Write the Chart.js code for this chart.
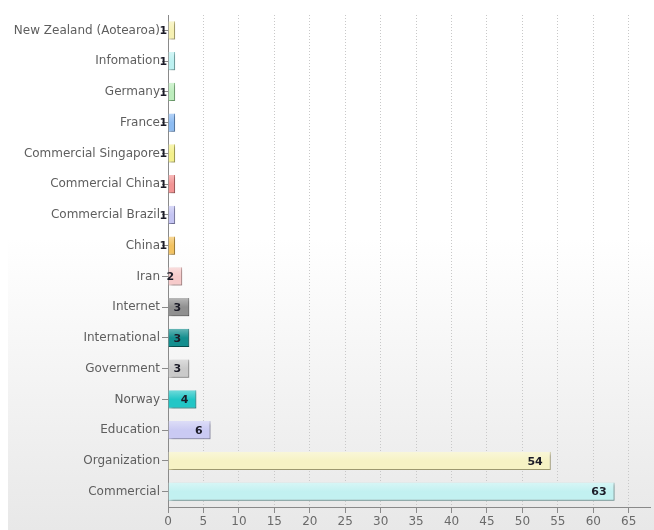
<!DOCTYPE html>
<html>
<head>
<meta charset="utf-8">
<script src="https://cdn.jsdelivr.net/npm/chart.js@4.4.1/dist/chart.umd.min.js"></script>
<style>
  html, body { margin: 0; padding: 0; background: #fff; }
  #wrap { width: 654px; height: 530px; position: relative; }
</style>
</head>
<body>
<div id="wrap"><canvas id="domainChart"></canvas></div>
<script>
// DATA
const categories = [
  "New Zealand (Aotearoa)", "Infomation", "Germany", "France",
  "Commercial Singapore", "Commercial China", "Commercial Brazil", "China",
  "Iran", "Internet", "International", "Government", "Norway",
  "Education", "Organization", "Commercial"
];
const counts = [1, 1, 1, 1, 1, 1, 1, 1, 2, 3, 3, 3, 4, 6, 54, 63];
const xTickValues = [0, 5, 10, 15, 20, 25, 30, 35, 40, 45, 50, 55, 60, 65];

const barColors = [
  "#f6f1b4", "#bdf1f1", "#bdedbd", "#8dbcf2",
  "#f3f08c", "#f29494", "#c4c4f2", "#f2c261",
  "#f6caca", "#909090", "#138e8e", "#cacaca", "#22c6c6",
  "#cacaf3", "#f6f2c4", "#c2f1f1"
];
const barBorders = [
  "#c9c07a", "#86c4c4", "#89c489", "#5f8fc8",
  "#c4c05a", "#c46666", "#9494c6", "#c49536",
  "#c99a9a", "#606060", "#0a5f5f", "#9a9a9a", "#129999",
  "#9a9ac8", "#c8c28e", "#8cc4c4"
];

const FONT = "'DejaVu Sans', Tahoma, sans-serif";

// mix a hex colour with white
function lighten(hex, amt) {
  const n = parseInt(hex.slice(1), 16);
  const r = (n >> 16) & 255, g = (n >> 8) & 255, b = n & 255;
  const m = c => Math.round(c + (255 - c) * amt);
  return `rgb(${m(r)},${m(g)},${m(b)})`;
}

// gradient per bar, lighter on top
function barFill(ctx) {
  const chart = ctx.chart;
  const yScale = chart.scales.y;
  const base = barColors[ctx.dataIndex];
  if (!yScale || ctx.dataIndex === undefined) return base;
  const cy = yScale.getPixelForValue(ctx.dataIndex);
  if (!isFinite(cy)) return base;
  const g = chart.ctx.createLinearGradient(0, cy - 9, 0, cy + 9);
  g.addColorStop(0, lighten(base, 0.35));
  g.addColorStop(0.5, base);
  g.addColorStop(1, base);
  return g;
}

// background: white top, fading to light grey
const bgPlugin = {
  id: "bg",
  beforeDraw(chart) {
    const ctx = chart.ctx;
    ctx.save();
    ctx.fillStyle = "#ffffff";
    ctx.fillRect(0, 0, chart.width, chart.height);
    const g = ctx.createLinearGradient(0, 0, 0, chart.height);
    g.addColorStop(0, "#ffffff");
    g.addColorStop(0.45, "#ffffff");
    g.addColorStop(1, "#e8e8e8");
    ctx.fillStyle = g;
    ctx.fillRect(8, 0, chart.width - 8, chart.height);
    ctx.restore();
  }
};

// drop shadow under bars + value labels
const barFx = {
  id: "barFx",
  beforeDatasetsDraw(chart) {
    const ctx = chart.ctx;
    ctx.save();
    ctx.shadowColor = "rgba(0,0,0,0.3)";
    ctx.shadowOffsetX = 2;
    ctx.shadowOffsetY = 2;
    ctx.shadowBlur = 3;
  },
  afterDatasetsDraw(chart) {
    const ctx = chart.ctx;
    ctx.restore();
    ctx.save();
    ctx.font = "bold 11px " + FONT;
    ctx.fillStyle = "#1c1c28";
    ctx.textAlign = "right";
    ctx.textBaseline = "middle";
    chart.getDatasetMeta(0).data.forEach((bar, i) => {
      ctx.fillText(String(counts[i]), bar.x - 8, bar.y + 1);
    });
    ctx.restore();
  }
};

new Chart(document.getElementById("domainChart"), {
  type: "bar",
  data: {
    labels: categories,
    datasets: [{
      data: counts,
      backgroundColor: barFill,
      borderColor: barBorders,
      borderWidth: { top: 0, left: 0, right: 1, bottom: 1 },
      borderSkipped: false,
      barPercentage: 0.6,
      categoryPercentage: 1.0
    }]
  },
  options: {
    indexAxis: "y",
    responsive: true,
    maintainAspectRatio: false,
    animation: false,
    layout: { padding: { left: 8, top: 15, right: 4, bottom: 0 } },
    plugins: {
      legend: { display: false },
      tooltip: { enabled: false }
    },
    scales: {
      x: {
        min: 0,
        max: 68,
        afterBuildTicks: scale => {
          scale.ticks = xTickValues.map(v => ({ value: v }));
        },
        afterFit: scale => { scale.height = 23; },
        grid: {
          color: ctx => (ctx.tick && ctx.tick.value === 0) ? "rgba(0,0,0,0)" : "#c8c8c8",
          tickColor: "#8a8a8a",
          tickLength: 6
        },
        border: { display: true, color: "#8a8a8a", width: 1, dash: [1, 2] },
        ticks: {
          color: "#6a6a6a",
          font: { family: FONT, size: 12 },
          padding: 2,
          maxRotation: 0
        }
      },
      y: {
        afterFit: scale => { scale.width = 160; },
        grid: {
          drawOnChartArea: false,
          offset: false,
          tickColor: "#8a8a8a",
          tickLength: 6
        },
        border: { display: true, color: "#8a8a8a", width: 1 },
        ticks: {
          color: "#5e5e5e",
          font: { family: FONT, size: 12 },
          padding: 2,
          autoSkip: false
        }
      }
    }
  },
  plugins: [bgPlugin, barFx]
});
</script>
</body>
</html>
